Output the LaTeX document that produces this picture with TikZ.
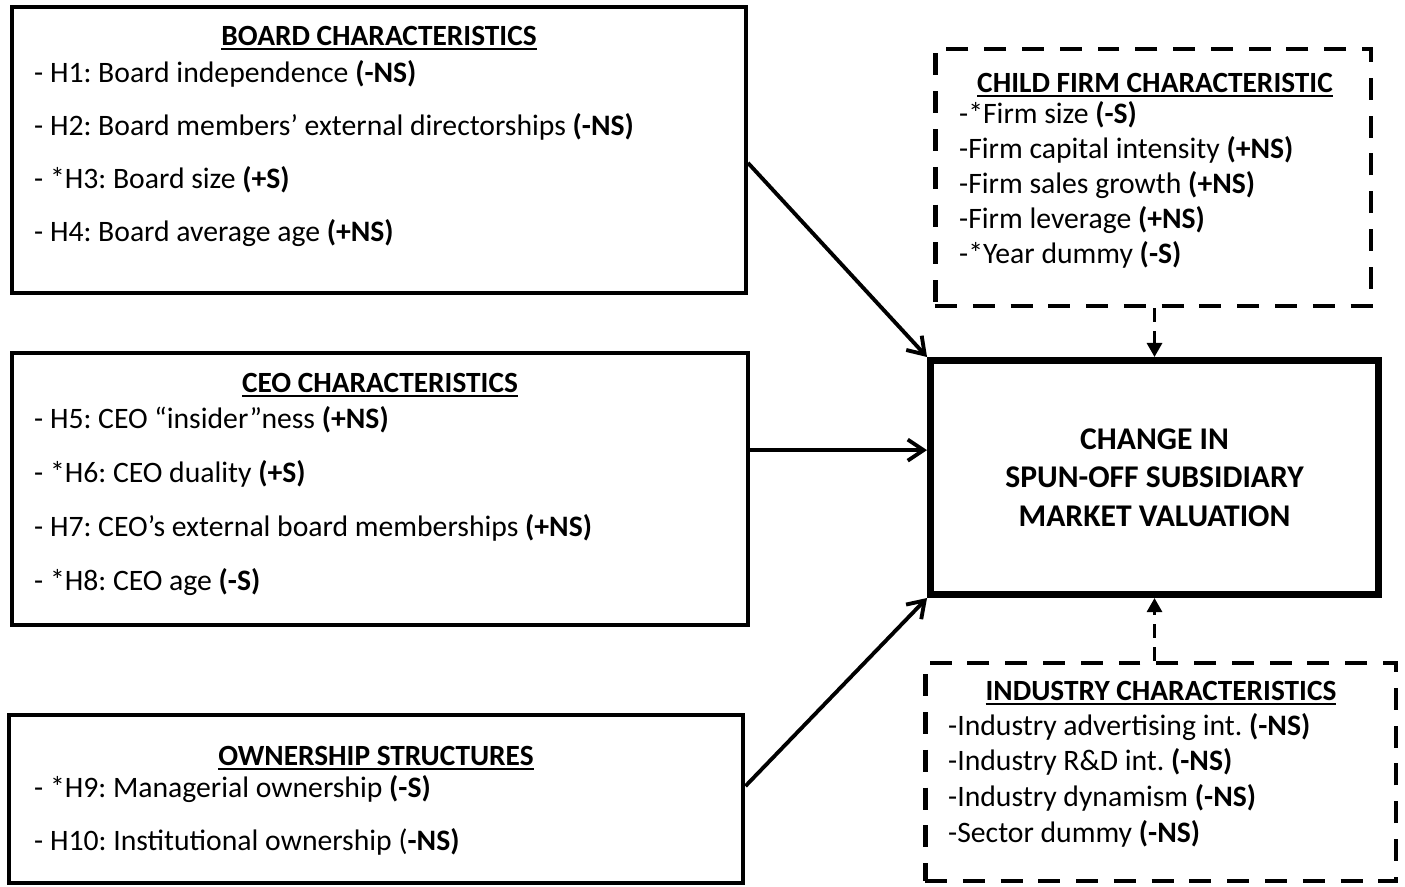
\documentclass[tikz,border=0pt]{standalone}
\usepackage{fontspec}
\setmainfont{Carlito}
\usetikzlibrary{arrows.meta}
\frenchspacing

\newsavebox{\headbox}
\newcommand{\underhead}[1]{\sbox{\headbox}{#1}\rlap{\usebox{\headbox}}\rule[-3pt]{\wd\headbox}{1.2pt}}

\tikzset{
  factorbox/.style={draw, line width=2.3pt, inner sep=0pt},
  controlbox/.style={draw, line width=2.8pt, dash pattern=on 12.5pt off 9pt, inner sep=0pt},
  outcomebox/.style={draw, line width=4pt, inner sep=0pt, align=center,
    font=\fontsize{18}{21.9}\selectfont\bfseries},
  heading/.style={anchor=base, font=\fontsize{16.7}{20}\selectfont\bfseries},
  item/.style={anchor=base west, font=\fontsize{16.9}{20}\selectfont},
  effect/.style={-{Straight Barb[length=9pt,width=12pt]}, line width=2.2pt},
  control/.style={-{Triangle[length=8pt,width=8.5pt]}, line width=1.8pt,
    dash pattern=on 8pt off 5pt}
}

\begin{document}
\begin{tikzpicture}[x=0.02cm, y=-0.02cm]
        \useasboundingbox (0,0) rectangle (1405,886);

        % Board
        \node [factorbox, minimum width=14.68cm, minimum height=5.72cm] (board) at (379,150) {};
        \node [heading] (boardhead) at (379,45) {\underhead{BOARD CHARACTERISTICS}};
        \foreach \txt [count=\i] in {{- H1: Board independence \textbf{(-NS)}},
            {- H2: Board members’ external directorships \textbf{(-NS)}},
            {- *H3: Board size \textbf{(+S)}},
            {- H4: Board average age \textbf{(+NS)}}}
            \node [item] (board\i) at (28,{82+53.3*(\i-1)}) {\txt};

        % CEO
        \node [factorbox, minimum width=14.72cm, minimum height=5.44cm] (ceo) at (380,489) {};
        \node [heading] (ceohead) at (380,392) {\underhead{CEO CHARACTERISTICS}};
        \foreach \txt [count=\i] in {{- H5: CEO “insider”ness \textbf{(+NS)}},
            {- *H6: CEO duality \textbf{(+S)}},
            {- H7: CEO’s external board memberships \textbf{(+NS)}},
            {- *H8: CEO age \textbf{(-S)}}}
            \node [item] (ceo\i) at (28,{428+54*(\i-1)}) {\txt};

        % Ownership
        \node [factorbox, minimum width=14.7cm, minimum height=3.36cm] (ownership) at (376,799) {};
        \node [heading] (ownhead) at (376,765) {\underhead{OWNERSHIP STRUCTURES}};
        \node [item] (own1) at (28,797) {- *H9: Managerial ownership \textbf{(-S)}};
        \node [item] (own2) at (28,850) {- H10: Institutional ownership (\textbf{-NS)}};

        % Child firm
        \node [controlbox, minimum width=8.72cm, minimum height=5.14cm] (child) at (1153,177.5) {};
        \node [heading] (childhead) at (1155,92) {\underhead{CHILD FIRM CHARACTERISTIC}};
        \foreach \txt [count=\i] in {{-*Firm size \textbf{(-S)}},
            {-Firm capital intensity \textbf{(+NS)}},
            {-Firm sales growth \textbf{(+NS)}},
            {-Firm leverage \textbf{(+NS)}},
            {-*Year dummy \textbf{(-S)}}}
            \node [item] (child\i) at (953,{123+35*(\i-1)}) {\txt};

        % Industry
        \node [controlbox, minimum width=9.42cm, minimum height=4.36cm] (industry) at (1160.5,772) {};
        \node [heading] (indhead) at (1161,700) {\underhead{INDUSTRY CHARACTERISTICS}};
        \foreach \txt [count=\i] in {{-Industry advertising int. \textbf{(-NS)}},
            {-Industry R\&D int. \textbf{(-NS)}},
            {-Industry dynamism \textbf{(-NS)}},
            {-Sector dummy \textbf{(-NS)}}}
            \node [item] (ind\i) at (942,{735+35.7*(\i-1)}) {\txt};

        % Outcome
        \node [outcomebox, minimum width=8.96cm, minimum height=4.68cm] (valuation) at (1154.5,477.5)
            {CHANGE IN\\SPUN-OFF SUBSIDIARY\\MARKET VALUATION};

        % Arrows
        \draw [effect] (board.-2) -- (valuation.north west);
        \draw [effect] (ceo.6) -- (ceo.6 -| valuation.west);
        \draw [effect] (ownership.2) -- (valuation.south west);
        \draw [control] (valuation.north |- child.south) -- (valuation.north);
        \draw [control] (valuation.south |- industry.north) -- (valuation.south);
    \end{tikzpicture}
\end{document}
